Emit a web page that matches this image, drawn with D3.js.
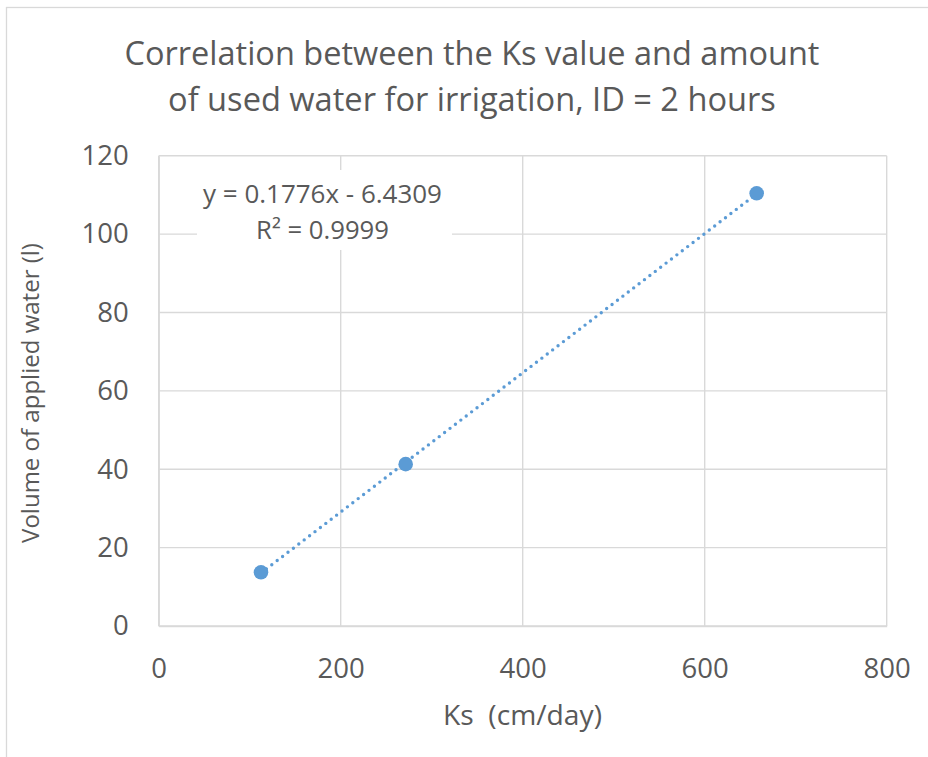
<!DOCTYPE html>
<html><head><meta charset="utf-8">
<script src="https://cdn.jsdelivr.net/npm/d3@7"></script>
<style>body{margin:0;background:#fff}svg{display:block}text{font-family:"Open Sans",sans-serif;fill:#595959}</style>
</head><body><svg id="c" width="928" height="757"></svg>
<script>
const titleLines = ["Correlation between the Ks value and amount", "of used water for irrigation, ID = 2 hours"];
const ksValues = [112.4, 271.4, 657.1];
const waterValues = [13.7, 41.3, 110.4];
const xTicks = [0, 200, 400, 600, 800];
const yTicks = [0, 20, 40, 60, 80, 100, 120];
const trendSlope = 0.1776, trendIntercept = -6.4309;
const equationLines = ["y = 0.1776x - 6.4309", "R² = 0.9999"];
const xLabel = "Ks  (cm/day)";
const yLabel = "Volume of applied water (l)";

const svg = d3.select("#c");
const blue = "#5B9BD5", grid = "#d9d9d9";
const L = 158.7, R = 886.7, T = 155.7, B = 626;
const x = d3.scaleLinear().domain([0, 800]).range([L, R]);
const y = d3.scaleLinear().domain([0, 120]).range([B, T]);

// outer border
svg.append("rect").attr("x", 6.5).attr("y", 7.5).attr("width", 940).attr("height", 760)
  .attr("fill", "none").attr("stroke", "#d9d9d9").attr("stroke-width", 1.3);

function fit(sel, w) {
  const n = sel.node(); const fs = parseFloat(sel.attr("font-size"));
  const cw = n.getComputedTextLength(); sel.attr("font-size", fs * w / cw);
}

// title
titleLines.forEach((t, i) => {
  const s = svg.append("text").attr("x", 472).attr("y", 65 + i * 45.5)
    .attr("text-anchor", "middle").attr("font-size", 30).text(t);
  fit(s, i === 0 ? 695 : 608);
});

// gridlines
svg.append("g").selectAll("line").data(yTicks).join("line")
  .attr("x1", L).attr("x2", R).attr("y1", d => y(d)).attr("y2", d => y(d))
  .attr("stroke", grid).attr("stroke-width", 1.4);
svg.append("g").selectAll("line").data(xTicks).join("line")
  .attr("y1", T).attr("y2", B).attr("x1", d => x(d)).attr("x2", d => x(d))
  .attr("stroke", grid).attr("stroke-width", 1.4);

// axes (labels only)
const xa = svg.append("g").attr("transform", `translate(0,${B})`)
  .call(d3.axisBottom(x).tickValues(xTicks).tickSize(0).tickPadding(32));
xa.select(".domain").attr("stroke", grid).attr("stroke-width", 1.4);
xa.selectAll("text").attr("font-size", 27.5).attr("fill", "#595959").attr("font-family", "Open Sans");
const ya = svg.append("g").attr("transform", `translate(${L},0)`)
  .call(d3.axisLeft(y).tickValues(yTicks).tickSize(0).tickPadding(30));
ya.select(".domain").attr("stroke", grid).attr("stroke-width", 1.4);
ya.selectAll("text").attr("font-size", 27.5).attr("fill", "#595959").attr("font-family", "Open Sans");

// trendline
const xMin = d3.min(ksValues), xMax = d3.max(ksValues);
svg.append("line")
  .attr("x1", x(xMin)).attr("y1", y(trendSlope * xMin + trendIntercept))
  .attr("x2", x(xMax)).attr("y2", y(trendSlope * xMax + trendIntercept))
  .attr("stroke", blue).attr("stroke-width", 3.4).attr("stroke-linecap", "round")
  .attr("stroke-dasharray", "0 6.8");

// points
svg.append("g").selectAll("circle").data(ksValues).join("circle")
  .attr("cx", d => x(d)).attr("cy", (d, i) => y(waterValues[i])).attr("r", 7.3)
  .attr("fill", blue);

// equation label
svg.append("rect").attr("x", 197).attr("y", 170).attr("width", 255).attr("height", 80).attr("fill", "#fff");
equationLines.forEach((t, i) => {
  const s = svg.append("text").attr("x", 322.5).attr("y", 203 + i * 36)
    .attr("text-anchor", "middle").attr("font-size", 21).text(t);
  fit(s, i === 0 ? 239 : 133);
});

// axis titles
const xl = svg.append("text").attr("x", 522.5).attr("y", 725).attr("text-anchor", "middle")
  .attr("font-size", 24).style("white-space", "pre").attr("xml:space", "preserve").text(xLabel);
fit(xl, 159);
const yl = svg.append("text").attr("transform", "translate(39,393) rotate(-90)")
  .attr("text-anchor", "middle").attr("font-size", 20).text(yLabel);
fit(yl, 300);
</script></body></html>
